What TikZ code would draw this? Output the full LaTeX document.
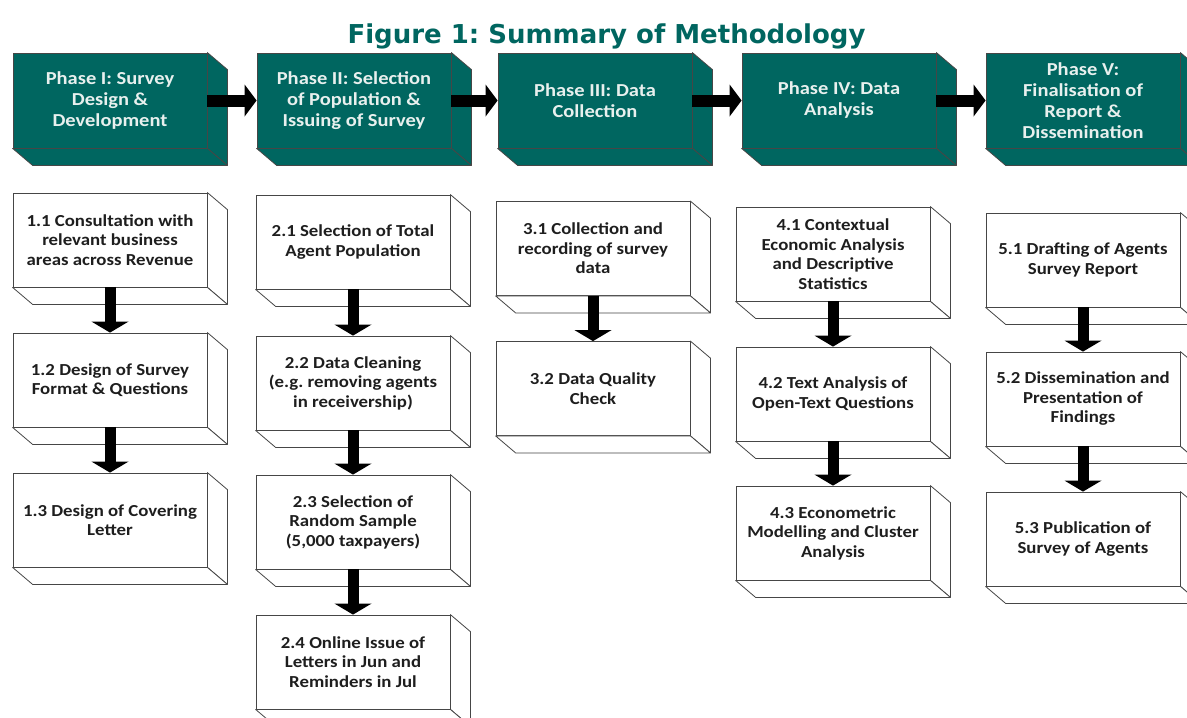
\documentclass[tikz,border=0pt]{standalone}
\usepackage{fontspec}
\usetikzlibrary{arrows.meta}
\newfontfamily\boxfont[FakeStretch=1.12]{Carlito}
\newfontfamily\titlefont{DejaVu Sans}
\definecolor{teal1}{RGB}{0,102,96}
\definecolor{phtext}{RGB}{232,240,238}
\definecolor{edge}{RGB}{70,70,70}
\definecolor{boxtext}{RGB}{30,30,30}
\frenchspacing
\newcommand\boxsides[2]{%
  \draw[draw=edge, fill=#2, line width=0.8pt, line join=round] (#1.north east) -- ++(20,17) -- ([shift={(20,17)}]#1.south east) -- (#1.south east) -- cycle;
  \draw[draw=edge, fill=#2, line width=0.8pt, line join=round] (#1.south west) -- ++(20,17) -- ([shift={(20,17)}]#1.south east) -- (#1.south east) -- cycle;}
\begin{document}
\frenchspacing
\begin{tikzpicture}[x=1pt,y=-1pt,
  pbox/.style={draw=edge, fill=teal1, line width=0.8pt, minimum width=194pt, minimum height=95pt,
    inner sep=0pt, align=center, text=phtext, font=\boxfont\bfseries\fontsize{18.3}{21}\selectfont},
  wbox/.style={draw=edge, fill=white, line width=0.8pt, minimum width=194pt, minimum height=94pt,
    inner sep=0pt, align=center, text=boxtext, font=\boxfont\bfseries\fontsize{16.8}{19.5}\selectfont},
  harrow/.style={draw=black, line width=12pt, -{Triangle[width=32pt,length=12pt,line width=0pt]}},
  varrow/.style={draw=black, line width=11pt, -{Triangle[width=37pt,length=11pt,line width=0pt]}},
  titlestyle/.style={text=teal1, font=\titlefont\bfseries\fontsize{26}{30}\selectfont, anchor=base, inner sep=0pt}
]
\useasboundingbox (0,0) rectangle (1187,718);
\fill[white] (0,0) rectangle (1187,718);

\node[titlestyle] (title) at (606.5,43.5) {Figure 1: Summary of Methodology};

% phase boxes
\node[pbox] (p1) at (110,100.5) {Phase I: Survey\\Design \&\\Development};
\node[pbox] (p2) at (354,100.5) {Phase II: Selection\\of Population \&\\Issuing of Survey};
\node[pbox] (p3) at (595,100.5) {Phase III: Data\\Collection};
\node[pbox] (p4) at (839,100.5) {Phase IV: Data\\Analysis};
\node[pbox] (p5) at (1083,100.5) {Phase V:\\Finalisation of\\Report \&\\Dissemination};
\foreach \n in {p1,p2,p3,p4,p5} {\boxsides{\n}{teal1}}

% column 1
\node[wbox] (b11) at (110,240) {1.1 Consultation with\\relevant business\\areas across Revenue};
\node[wbox] (b12) at (110,380) {1.2 Design of Survey\\Format \& Questions};
\node[wbox] (b13) at (110,520) {1.3 Design of Covering\\Letter};
% column 2
\node[wbox] (b21) at (353,242) {2.1 Selection of Total\\Agent Population};
\node[wbox] (b22) at (353,383) {2.2 Data Cleaning\\(e.g. removing agents\\in receivership)};
\node[wbox] (b23) at (353,522) {2.3 Selection of\\Random Sample\\(5,000 taxpayers)};
\node[wbox] (b24) at (353,662) {2.4 Online Issue of\\Letters in Jun and\\Reminders in Jul};
% column 3
\node[wbox] (b31) at (593,248.5) {3.1 Collection and\\recording of survey\\data};
\node[wbox] (b32) at (593,388.5) {3.2 Data Quality\\Check};
% column 4
\node[wbox] (b41) at (833,254) {4.1 Contextual\\Economic Analysis\\and Descriptive\\Statistics};
\node[wbox] (b42) at (833,394) {4.2 Text Analysis of\\Open-Text Questions};
\node[wbox] (b43) at (833,533) {4.3 Econometric\\Modelling and Cluster\\Analysis};
% column 5
\node[wbox] (b51) at (1083,260) {5.1 Drafting of Agents\\Survey Report};
\node[wbox] (b52) at (1083,399) {5.2 Dissemination and\\Presentation of\\Findings};
\node[wbox] (b53) at (1083,539) {5.3 Publication of\\Survey of Agents};
\foreach \n in {b11,b12,b13,b21,b22,b23,b24,b31,b32,b41,b42,b43,b51,b52,b53} {\boxsides{\n}{white}}

% arrows between phases
\draw[harrow] (p1.east) -- (p2.west);
\draw[harrow] (p2.east) -- (p3.west);
\draw[harrow] (p3.east) -- (p4.west);
\draw[harrow] (p4.east) -- (p5.west);

% arrows within columns
\draw[varrow] (b11.south) -- (b12.north);
\draw[varrow] (b12.south) -- (b13.north);
\draw[varrow] (b21.south) -- (b22.north);
\draw[varrow] (b22.south) -- (b23.north);
\draw[varrow] (b23.south) -- (b24.north);
\draw[varrow] (b31.south) -- (b32.north);
\draw[varrow] (b41.south) -- (b42.north);
\draw[varrow] (b42.south) -- (b43.north);
\draw[varrow] (b51.south) -- (b52.north);
\draw[varrow] (b52.south) -- (b53.north);
\end{tikzpicture}
\end{document}
